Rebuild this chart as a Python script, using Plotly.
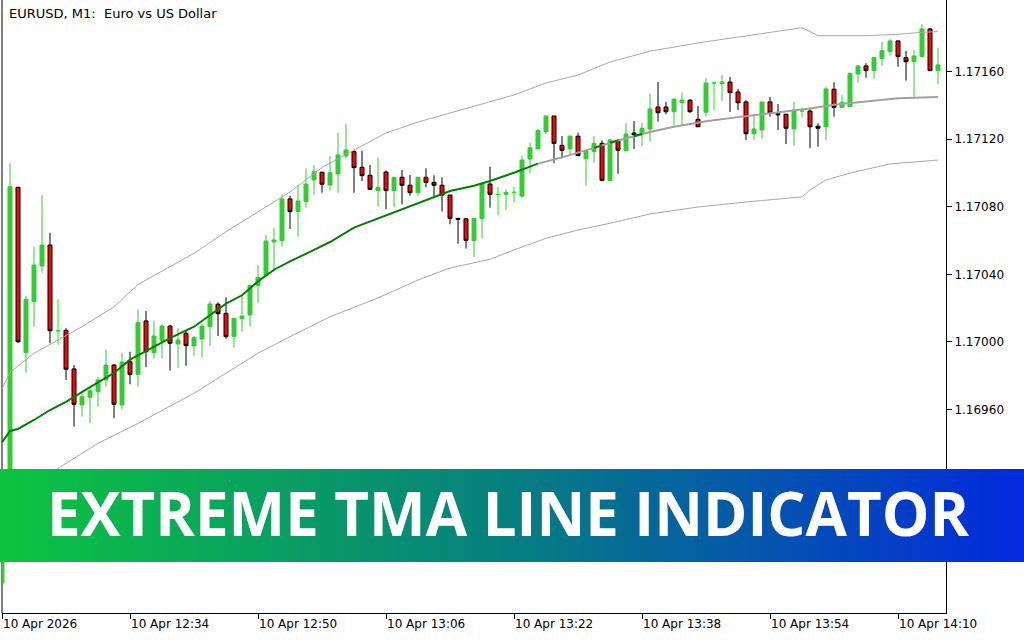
import plotly.graph_objects as go

# ---------------- data ----------------
first_bar = -1  # bar index of 12:18
tick_bars = [-1, 15, 31, 47, 63, 79, 95, 111]
tick_labels = ["10 Apr 2026", "10 Apr 12:34", "10 Apr 12:50", "10 Apr 13:06",
               "10 Apr 13:22", "10 Apr 13:38", "10 Apr 13:54", "10 Apr 14:10"]

opens = [1.168573, 1.168828, 1.170915, 1.169936, 1.170238, 1.170449, 1.170573, 1.170066, 1.170069, 1.169840,
         1.169627, 1.169672, 1.169705, 1.169775, 1.169863, 1.169627, 1.169883, 1.169808, 1.170124, 1.169936,
         1.170007, 1.170094, 1.169988, 1.170051, 1.169976, 1.170017, 1.170090, 1.170223, 1.170169, 1.170031,
         1.170137, 1.170159, 1.170333, 1.170392, 1.170591, 1.170599, 1.170846, 1.170771, 1.170830, 1.170958,
         1.171004, 1.170928, 1.170994, 1.171100, 1.171126, 1.171033, 1.170986, 1.170895, 1.171005, 1.170895,
         1.170974, 1.170927, 1.170883, 1.170974, 1.170944, 1.170927, 1.170869, 1.170731, 1.170729, 1.170599,
         1.170729, 1.170934, 1.170873, 1.170873, 1.170885, 1.170863, 1.171082, 1.171142, 1.171244, 1.171337,
         1.171163, 1.171142, 1.171217, 1.171084, 1.171126, 1.171175, 1.170954, 1.171187, 1.171131, 1.171236,
         1.171234, 1.171260, 1.171390, 1.171390, 1.171362, 1.171415, 1.171430, 1.171317, 1.171359, 1.171532,
         1.171528, 1.171538, 1.171479, 1.171420, 1.171232, 1.171254, 1.171420, 1.171350, 1.171347, 1.171260,
         1.171366, 1.171366, 1.171276, 1.171273, 1.171495, 1.171388, 1.171392, 1.171585, 1.171633, 1.171605,
         1.171676, 1.171717, 1.171781, 1.171682, 1.171658, 1.171688, 1.171852, 1.171605]
highs = [1.169094, 1.171057, 1.170917, 1.170272, 1.170563, 1.170869, 1.170646, 1.170252, 1.170081, 1.169863,
         1.169696, 1.169735, 1.169794, 1.169952, 1.169869, 1.169936, 1.169942, 1.170193, 1.170183, 1.170126,
         1.170106, 1.170100, 1.170081, 1.170065, 1.170035, 1.170110, 1.170242, 1.170234, 1.170264, 1.170140,
         1.170278, 1.170335, 1.170455, 1.170633, 1.170672, 1.170873, 1.170865, 1.170928, 1.171027, 1.171047,
         1.171007, 1.171100, 1.171238, 1.171289, 1.171136, 1.171131, 1.171047, 1.171090, 1.171015, 1.170974,
         1.171017, 1.170988, 1.170974, 1.171027, 1.170986, 1.170974, 1.170869, 1.170731, 1.170731, 1.170731,
         1.170934, 1.171037, 1.170918, 1.170905, 1.170918, 1.171100, 1.171179, 1.171260, 1.171337, 1.171337,
         1.171218, 1.171218, 1.171238, 1.171131, 1.171218, 1.171191, 1.171199, 1.171199, 1.171294, 1.171307,
         1.171297, 1.171467, 1.171538, 1.171420, 1.171437, 1.171477, 1.171437, 1.171396, 1.171562, 1.171535,
         1.171579, 1.171568, 1.171497, 1.171431, 1.171347, 1.171420, 1.171449, 1.171408, 1.171350, 1.171420,
         1.171387, 1.171386, 1.171294, 1.171510, 1.171536, 1.171461, 1.171595, 1.171639, 1.171649, 1.171688,
         1.171776, 1.171792, 1.171784, 1.171721, 1.171727, 1.171881, 1.171855, 1.171741]
lows = [1.168562, 1.168781, 1.169994, 1.169818, 1.170090, 1.170410, 1.169992, 1.169982, 1.169775, 1.169498,
        1.169558, 1.169518, 1.169617, 1.169735, 1.169548, 1.169601, 1.169749, 1.169735, 1.169850, 1.169903,
        1.169903, 1.169830, 1.169847, 1.169859, 1.169917, 1.169907, 1.169976, 1.170035, 1.170019, 1.169966,
        1.170060, 1.170090, 1.170232, 1.170385, 1.170416, 1.170563, 1.170668, 1.170623, 1.170794, 1.170869,
        1.170883, 1.170895, 1.170883, 1.171086, 1.170883, 1.170952, 1.170899, 1.170800, 1.170785, 1.170797,
        1.170814, 1.170865, 1.170865, 1.170915, 1.170856, 1.170771, 1.170696, 1.170581, 1.170552, 1.170501,
        1.170613, 1.170794, 1.170751, 1.170781, 1.170824, 1.170853, 1.170998, 1.171140, 1.171230, 1.171057,
        1.171086, 1.171112, 1.171100, 1.170924, 1.171060, 1.170950, 1.170950, 1.170995, 1.171128, 1.171142,
        1.171159, 1.171185, 1.171303, 1.171347, 1.171279, 1.171279, 1.171356, 1.171271, 1.171333, 1.171372,
        1.171427, 1.171360, 1.171372, 1.171195, 1.171195, 1.171202, 1.171333, 1.171254, 1.171171, 1.171161,
        1.171328, 1.171146, 1.171155, 1.171195, 1.171333, 1.171385, 1.171389, 1.171534, 1.171563, 1.171556,
        1.171634, 1.171694, 1.171628, 1.171546, 1.171451, 1.171682, 1.171603, 1.171526]
closes = [1.169065, 1.170918, 1.170001, 1.170252, 1.170455, 1.170573, 1.170066, 1.170066, 1.169838, 1.169631,
          1.169676, 1.169711, 1.169775, 1.169863, 1.169631, 1.169881, 1.169808, 1.170114, 1.169942, 1.170035,
          1.170094, 1.169992, 1.170011, 1.169978, 1.170025, 1.170094, 1.170224, 1.170167, 1.170031, 1.170140,
          1.170153, 1.170335, 1.170382, 1.170597, 1.170603, 1.170846, 1.170771, 1.170834, 1.170934, 1.171007,
          1.170933, 1.171001, 1.171106, 1.171136, 1.171031, 1.170984, 1.170903, 1.170915, 1.170895, 1.170974,
          1.170927, 1.170883, 1.170974, 1.170944, 1.170927, 1.170869, 1.170731, 1.170726, 1.170601, 1.170731,
          1.170934, 1.170873, 1.170873, 1.170885, 1.170885, 1.171076, 1.171149, 1.171250, 1.171337, 1.171175,
          1.171134, 1.171218, 1.171102, 1.171131, 1.171175, 1.170956, 1.171195, 1.171134, 1.171230, 1.171226,
          1.171264, 1.171378, 1.171356, 1.171362, 1.171437, 1.171431, 1.171362, 1.171273, 1.171532, 1.171532,
          1.171538, 1.171475, 1.171415, 1.171232, 1.171260, 1.171420, 1.171354, 1.171344, 1.171264, 1.171372,
          1.171366, 1.171273, 1.171264, 1.171497, 1.171388, 1.171418, 1.171589, 1.171633, 1.171605, 1.171682,
          1.171723, 1.171781, 1.171688, 1.171658, 1.171692, 1.171852, 1.171605, 1.171639]
doji_bars = [6, 61, 63, 88, 99]

# TMA centre line and bands (bar index, price)
mid_bar = [-1, 0, 1, 3, 5, 7, 10, 13, 15, 18, 20, 23, 27, 29, 31, 33, 35, 38, 40, 43, 47, 51, 55, 58,
           60, 63, 66, 69, 73, 74, 75, 76, 78, 79, 80, 83, 87, 91, 95, 100, 103, 107, 111, 116]
mid_val = [1.169405, 1.169473, 1.169485, 1.169538, 1.169597, 1.169645, 1.169733, 1.169816, 1.169895,
           1.169973, 1.170023, 1.170090, 1.170226, 1.170276, 1.170358, 1.170427, 1.170477, 1.170544,
           1.170591, 1.170676, 1.170749, 1.170818, 1.170893, 1.170924, 1.170952, 1.171001, 1.171055,
           1.171092, 1.171148, 1.171163, 1.171178, 1.171192, 1.171217, 1.171230, 1.171242, 1.171273,
           1.171306, 1.171330, 1.171352, 1.171381, 1.171403, 1.171424, 1.171442, 1.171449]
green_spans = [(-1, 66), (73, 74), (75, 76), (78, 79)]

upper_bar = [-1, 0, 3, 6, 9, 13, 16, 20, 23, 27, 31, 35, 39, 43, 47, 51, 55, 60, 63, 67, 71, 75, 79, 80,
             86, 92, 97, 99, 100, 101, 107, 111, 114, 116]
upper_val = [1.169722, 1.169820, 1.169933, 1.170011, 1.170090, 1.170208, 1.170340, 1.170445, 1.170524,
             1.170652, 1.170771, 1.170887, 1.171032, 1.171136, 1.171236, 1.171301, 1.171355, 1.171420,
             1.171461, 1.171532, 1.171579, 1.171656, 1.171704, 1.171720, 1.171769, 1.171810, 1.171846,
             1.171859, 1.171836, 1.171812, 1.171812, 1.171820, 1.171832, 1.171836]
lower_bar = [-1, 3, 6, 11, 16, 20, 23, 29, 31, 35, 40, 46, 51, 55, 60, 63, 67, 71, 75, 80, 86, 92, 99,
             100, 102, 105, 110, 116]
lower_val = [1.169005, 1.169120, 1.169252, 1.169400, 1.169518, 1.169617, 1.169696, 1.169874, 1.169933,
             1.170031, 1.170149, 1.170260, 1.170366, 1.170437, 1.170489, 1.170544, 1.170613, 1.170662,
             1.170702, 1.170757, 1.170798, 1.170828, 1.170858, 1.170899, 1.170958, 1.170999, 1.171053,
             1.171076]

price_ticks = [1.16960, 1.17000, 1.17040, 1.17080, 1.17120, 1.17160]
y_range = [1.168396, 1.172023]
x_range = [-1, 117]

title_text = "EURUSD, M1:\u00a0 Euro vs US Dollar"
banner_text = "EXTREME TMA LINE INDICATOR"

# ---------------- figure ----------------
W, H = 1024, 640
bars = list(range(first_bar, first_bar + len(opens)))
norm = [i for i, b in enumerate(bars) if b not in doji_bars]
dj = [i for i, b in enumerate(bars) if b in doji_bars]

GREEN = "#32CD32"
RED = "#FF0000"
LIME = "#00FF00"

fig = go.Figure()

fig.add_trace(go.Candlestick(
    x=[bars[i] for i in norm], open=[opens[i] for i in norm], high=[highs[i] for i in norm],
    low=[lows[i] for i in norm], close=[closes[i] for i in norm],
    increasing=dict(line=dict(color=GREEN, width=1), fillcolor=GREEN),
    decreasing=dict(line=dict(color="black", width=1), fillcolor=RED),
    whiskerwidth=0, hoverinfo="skip", showlegend=False))
fig.add_trace(go.Candlestick(
    x=[bars[i] for i in dj], open=[opens[i] for i in dj], high=[highs[i] for i in dj],
    low=[lows[i] for i in dj], close=[closes[i] for i in dj],
    increasing=dict(line=dict(color=LIME, width=1), fillcolor=LIME),
    decreasing=dict(line=dict(color=LIME, width=1), fillcolor=LIME),
    whiskerwidth=0, hoverinfo="skip", showlegend=False))

# bands
for bx, by in ((upper_bar, upper_val), (lower_bar, lower_val)):
    fig.add_trace(go.Scatter(x=bx, y=by, mode="lines", line=dict(color="#A8A8A8", width=1),
                             hoverinfo="skip", showlegend=False))

# centre line: grey part, then green parts on top
gx = [b for b in mid_bar if b >= green_spans[0][1]]
gy = [v for b, v in zip(mid_bar, mid_val) if b >= green_spans[0][1]]
fig.add_trace(go.Scatter(x=gx, y=gy, mode="lines", line=dict(color="#A0A0A0", width=2),
                         hoverinfo="skip", showlegend=False))
grx, gry = [], []
for s, e in green_spans:
    for b, v in zip(mid_bar, mid_val):
        if s <= b <= e:
            grx.append(b)
            gry.append(v)
    grx.append(None)
    gry.append(None)
fig.add_trace(go.Scatter(x=grx, y=gry, mode="lines", line=dict(color="#008000", width=2),
                         connectgaps=False, hoverinfo="skip", showlegend=False))

# banner gradient (on its own full-width axes, drawn above the chart)
fig.add_trace(go.Heatmap(z=[[0, 1], [0, 1]], x=[0, 1], y=[0, 1], zsmooth="best",
                         colorscale=[[0, "#0cc43f"], [0.5, "#067f80"], [1, "#0329de"]],
                         showscale=False, hoverinfo="skip", xaxis="x2", yaxis="y2"))

tick_font = dict(family="DejaVu Sans", size=12, color="black")
fig.update_layout(
    width=W, height=H, margin=dict(l=0, r=0, t=0, b=0, pad=0), autosize=False,
    paper_bgcolor="white", plot_bgcolor="rgba(0,0,0,0)",
    boxgap=0.5, boxgroupgap=0.0,
    xaxis=dict(domain=[2 / W, 946 / W], range=x_range, showline=True, linecolor="black", linewidth=1,
               ticks="outside", ticklen=5, tickcolor="black", tickvals=tick_bars, ticktext=tick_labels,
               ticklabelposition="outside right", tickfont=tick_font, showgrid=False, zeroline=False,
               rangeslider=dict(visible=False), fixedrange=True, automargin=False),
    yaxis=dict(domain=[27 / H, 1], range=y_range, side="right", showline=True, linecolor="black",
               linewidth=1, ticks="outside", ticklen=5, tickcolor="black", tickvals=price_ticks,
               tickformat=".5f", tickfont=tick_font, showgrid=False, zeroline=False, fixedrange=True,
               automargin=False),
    xaxis2=dict(domain=[0, 1], range=[0, 1], visible=False, anchor="y2", fixedrange=True,
                automargin=False),
    yaxis2=dict(domain=[78 / H, 171 / H], range=[0, 1], visible=False, anchor="x2", fixedrange=True,
                automargin=False),
    shapes=[
        dict(type="line", xref="paper", yref="paper", x0=2 / W, x1=2 / W, y0=27 / H, y1=1,
             line=dict(color="black", width=1), layer="below"),
    ],
    annotations=[
        dict(text=title_text, xref="paper", yref="paper", x=7 / W, y=(H - 14) / H, xanchor="left",
             yanchor="middle", showarrow=False, font=dict(family="DejaVu Sans", size=13, color="black")),
        dict(text=banner_text, xref="paper", yref="paper", x=508 / W, y=(H - 513) / H, xanchor="center",
             yanchor="middle", showarrow=False,
             font=dict(family="Open Sans", size=60, color="white", weight=700)),
    ],
)

fig.write_html("out.html", config={"displayModeBar": False, "staticPlot": True},
               post_script="document.body.style.margin='0px';")
